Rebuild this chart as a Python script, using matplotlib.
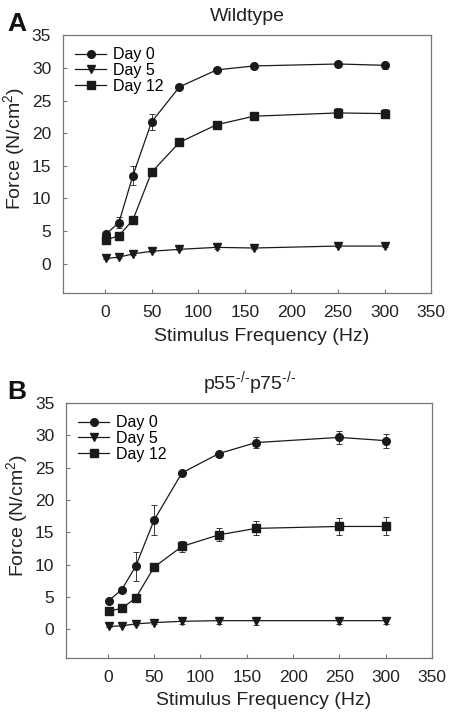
import numpy as np
import matplotlib.pyplot as plt
from matplotlib.lines import Line2D

plt.rcParams['font.family'] = ['Liberation Sans', 'DejaVu Sans']
plt.rcParams['mathtext.fontset'] = 'custom'
plt.rcParams['mathtext.rm'] = 'Liberation Sans'
plt.rcParams['mathtext.default'] = 'regular'

freq = [1, 15, 30, 50, 80, 120, 160, 250, 300]
labels = ['Day 0', 'Day 5', 'Day 12']

# Wildtype
wt_mean = [
    [4.5, 6.3, 13.5, 21.7, 27.1, 29.7, 30.3, 30.6, 30.4],
    [0.8, 1.0, 1.5, 1.9, 2.2, 2.5, 2.4, 2.7, 2.7],
    [3.6, 4.3, 6.7, 14.0, 18.6, 21.3, 22.6, 23.1, 23.0],
]
wt_err = [
    [0.4, 0.9, 1.4, 1.2, 0.3, 0.3, 0.3, 0.5, 0.5],
    [0.1, 0.1, 0.1, 0.1, 0.1, 0.2, 0.2, 0.2, 0.2],
    [0.3, 0.3, 0.3, 0.4, 0.3, 0.5, 0.6, 0.8, 0.7],
]

# p55-/-p75-/-
ko_mean = [
    [4.4, 6.1, 9.7, 16.9, 24.2, 27.2, 28.9, 29.7, 29.2],
    [0.4, 0.5, 0.8, 1.0, 1.2, 1.3, 1.3, 1.3, 1.3],
    [2.8, 3.2, 4.8, 9.6, 12.8, 14.6, 15.6, 15.9, 15.9],
]
ko_err = [
    [0.2, 0.2, 2.2, 2.3, 0.3, 0.3, 0.9, 1.0, 1.1],
    [0.1, 0.1, 0.2, 0.2, 0.4, 0.5, 0.6, 0.5, 0.5],
    [0.2, 0.2, 0.6, 0.5, 0.8, 1.0, 1.1, 1.3, 1.4],
]

markers = ['o', 'v', 's']
ink = '#1a1a1a'


def draw_panel(ax, means, errs, title):
    handles = []
    for m, e, mk, lab in zip(means, errs, markers, labels):
        ax.errorbar(freq, m, yerr=e, marker=mk, color=ink, ms=5.5,
                    lw=0.9, elinewidth=0.6, capsize=2.2, capthick=0.6)
        handles.append(Line2D([], [], marker=mk, color=ink, ms=5.5, lw=0.9,
                              label=lab))
    ax.set_xlim(-45, 350)
    ax.set_ylim(-4.5, 35)
    ax.set_xticks(range(0, 351, 50))
    ax.set_yticks(range(0, 36, 5))
    ax.tick_params(labelsize=12.5, length=3, width=0.8, direction='in',
                   color='#777777', labelcolor='#222222', pad=8.5)
    for s in ax.spines.values():
        s.set_color('#777777')
        s.set_linewidth(0.9)
    ax.set_xlabel('Stimulus Frequency (Hz)', fontsize=14, color='#222222')
    ax.xaxis.set_label_coords(0.54, -0.135)
    ax.set_ylabel('Force (N/cm$^2$)', fontsize=14, color='#222222')
    ax.yaxis.set_label_coords(-0.098, 0.56)
    ax.set_title(title, fontsize=14, color='#222222', pad=10)
    ax.legend(handles=handles, loc='upper left', frameon=False,
              fontsize=11.5, handlelength=1.95, handletextpad=0.4,
              labelspacing=0.05, borderaxespad=0.35)


fig = plt.figure(figsize=(4.5, 7.2), dpi=100)
ax1 = fig.add_axes([0.14, 0.593, 0.818, 0.358])
ax2 = fig.add_axes([0.147, 0.086, 0.813, 0.354])
draw_panel(ax1, wt_mean, wt_err, 'Wildtype')
draw_panel(ax2, ko_mean, ko_err, r'p55$^{\text{-/-}}$p75$^{\text{-/-}}$')
fig.text(0.016, 0.967, 'A', fontsize=19, fontweight='bold', color='#111111',
         va='center', ha='left')
fig.text(0.016, 0.455, 'B', fontsize=19, fontweight='bold', color='#111111',
         va='center', ha='left')

fig.savefig('out.png', dpi=100)
